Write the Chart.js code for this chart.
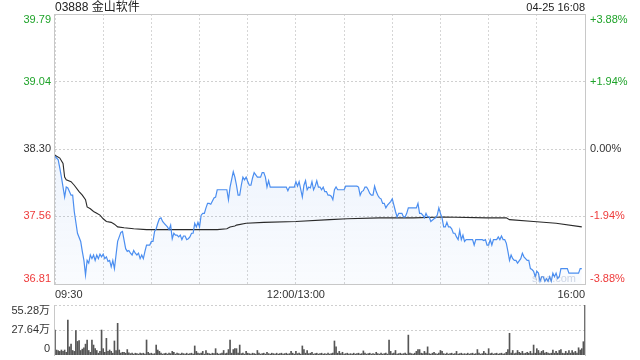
<!DOCTYPE html>
<html><head><meta charset="utf-8">
<script src="https://cdn.jsdelivr.net/npm/chart.js@4.4.1/dist/chart.umd.min.js"></script>
<style>
html,body{margin:0;padding:0;background:#fff;width:640px;height:360px;overflow:hidden;}
#wrap{position:relative;width:640px;height:360px;font-family:"Liberation Sans",Arial,"Noto Sans CJK SC",sans-serif;}
#title{position:absolute;left:55px;top:1px;font-size:12px;line-height:13px;color:#222;white-space:nowrap;}
#stamp{position:absolute;right:55px;top:1px;font-size:11px;line-height:13px;color:#222;white-space:nowrap;}
#mark{position:absolute;left:532px;top:272px;font-size:11px;line-height:12px;color:rgba(120,140,180,0.35);}
canvas{position:absolute;left:0;}
#c1{top:0;}
#c2{top:300px;}
</style></head>
<body><div id="wrap">
<canvas id="c1" width="640" height="300"></canvas>
<canvas id="c2" width="640" height="60"></canvas>
<div id="title">03888 金山软件</div>
<div id="stamp">04-25 16:08</div>
<div id="mark">sina.com</div>
</div>
<script>
// ---- data (minutes since 09:30, lunch break collapsed) ----
const prevClose = 38.30;
const priceTicks = [36.81, 37.56, 38.30, 39.04, 39.79];
const pctLabels = ['-3.88%', '-1.94%', '0.00%', '+1.94%', '+3.88%'];
const gridMinutes = [0, 30, 60, 90, 120, 150, 180, 210, 240, 270, 300, 330];
const timeTickMinutes = [0, 150, 330];
const timeTickLabels = ['09:30', '12:00/13:00', '16:00'];
const volTicks = [0, 27.64, 55.28];
const volTickLabels = ['0', '27.64万', '55.28万'];

const pricePoints = [
 [0,38.22],[2,38.18],[3,38.09],[4,37.99],[6,37.77],[7,37.88],[8,37.87],[10,37.79],[11,37.79],[12,37.61],
 [14,37.37],[16,37.28],[17,37.17],[18,37.07],[19,36.91],[20,37.07],[21,37.04],[22,37.13],[23,37.09],[24,37.13],
 [25,37.07],[26,37.13],[27,37.09],[28,37.14],[29,37.11],[30,37.14],[31,37.09],[32,37.11],[33,37.06],[34,37.07],
 [35,37.00],[36,37.07],[37,36.98],[38,37.13],[39,37.28],[40,37.33],[41,37.38],[42,37.39],[44,37.20],[45,37.17],
 [46,37.18],[47,37.15],[48,37.13],[49,37.18],[50,37.15],[51,37.13],[52,37.15],[53,37.09],[54,37.13],[55,37.09],
 [56,37.17],[57,37.24],[59,37.24],[60,37.28],[61,37.28],[62,37.39],[63,37.42],[64,37.48],[65,37.53],[66,37.54],
 [67,37.50],[68,37.48],[70,37.44],[71,37.41],[72,37.46],[73,37.31],[74,37.37],[75,37.35],[76,37.35],[77,37.33],
 [78,37.35],[79,37.30],[80,37.34],[81,37.34],[82,37.30],[83,37.31],[84,37.33],[85,37.37],[86,37.37],[87,37.48],
 [88,37.44],[89,37.49],[90,37.44],[91,37.57],[92,37.59],[93,37.59],[94,37.65],[95,37.70],[96,37.70],[97,37.69],
 [99,37.76],[100,37.77],[101,37.85],[106,37.85],[107,37.85],[108,37.74],[109,37.88],[111,38.05],[112,37.99],[113,37.90],
 [114,37.79],[115,37.79],[116,37.90],[117,37.99],[118,37.96],[119,37.99],[120,37.94],[121,37.90],[122,37.90],[123,37.98],
 [124,38.04],[126,37.99],[127,37.99],[128,37.99],[129,38.04],[130,38.04],[131,37.99],[132,37.88],[133,37.95],[134,37.88],
 [144,37.88],[145,37.84],[146,37.88],[149,37.88],[150,37.94],[151,37.89],[152,37.94],[154,37.77],[155,37.90],[156,37.95],
 [157,37.85],[158,37.88],[159,37.87],[160,37.94],[161,37.85],[162,37.89],[163,37.95],[164,37.88],[165,37.88],[166,37.85],
 [167,37.88],[168,37.83],[169,37.83],[170,37.79],[171,37.79],[172,37.78],[173,37.74],[174,37.85],[175,37.88],[176,37.85],
 [180,37.85],[181,37.89],[188,37.89],[189,37.88],[190,37.79],[191,37.83],[192,37.84],[193,37.88],[194,37.88],[195,37.85],
 [196,37.81],[197,37.79],[198,37.79],[199,37.89],[200,37.83],[201,37.79],[202,37.76],[203,37.75],[204,37.70],[205,37.70],
 [206,37.65],[207,37.68],[209,37.72],[210,37.75],[211,37.68],[212,37.61],[213,37.55],[214,37.59],[216,37.59],[217,37.55],
 [218,37.55],[219,37.59],[220,37.65],[225,37.65],[226,37.70],[227,37.59],[228,37.59],[229,37.57],[230,37.54],[231,37.59],
 [232,37.55],[233,37.55],[234,37.50],[236,37.53],[237,37.54],[238,37.57],[239,37.65],[240,37.59],[241,37.54],[242,37.44],
 [243,37.44],[244,37.49],[245,37.44],[246,37.44],[247,37.42],[248,37.37],[249,37.37],[250,37.33],[251,37.30],[252,37.40],
 [253,37.30],[254,37.35],[255,37.28],[256,37.30],[260,37.30],[261,37.24],[262,37.30],[264,37.30],[266,37.30],[267,37.29],
 [268,37.30],[269,37.24],[270,37.24],[271,37.30],[272,37.24],[273,37.30],[275,37.30],[276,37.33],[277,37.30],[278,37.34],
 [279,37.30],[280,37.30],[281,37.26],[282,37.17],[283,37.07],[284,37.13],[285,37.09],[286,37.07],[287,37.07],[288,37.04],
 [290,37.09],[291,37.15],[292,37.11],[293,37.09],[294,37.07],[295,37.07],[296,36.98],[297,36.97],[298,36.95],[299,36.89],
 [300,36.95],[301,36.93],[302,36.84],[303,36.89],[304,36.89],[305,36.84],[306,36.87],[307,36.84],[308,36.89],[309,36.84],
 [310,36.93],[311,36.89],[312,36.93],[313,36.87],[314,36.89],[315,36.98],[319,36.98],[320,36.93],[326,36.93],[327,36.98],
 [328,36.98]
];

const avgPoints = [
 [0,38.23],[3,38.20],[5,38.14],[6,37.99],[7,37.96],[10,37.94],[12,37.90],[15,37.83],[17,37.79],[19,37.74],
 [20,37.66],[22,37.64],[24,37.61],[26,37.59],[28,37.57],[30,37.53],[32,37.50],[35,37.49],[37,37.47],[39,37.44],
 [43,37.43],[49,37.42],[57,37.41],[70,37.41],[90,37.41],[101,37.41],[107,37.42],[109,37.44],[112,37.45],[113,37.46],
 [119,37.48],[130,37.49],[150,37.50],[171,37.52],[182,37.53],[202,37.54],[223,37.54],[242,37.55],[269,37.54],[281,37.54],
 [283,37.52],[298,37.50],[312,37.48],[328,37.44]
];

// volume per minute (万股), index = minute
const volumes = [
 27.6,5.5,4.8,4,5.5,4,5.5,3,38.7,9,
 12,5,4,27,15,16,5,6.5,8,12,
 16.6,5,3,16.6,11,7,5,2,4,27.6,
 7,3,18.4,4,5.5,4,2,15.5,5,35,
 5.5,2,3,3,2,6,2.5,1.5,2,1,
 2,1.5,1,2,1.5,2,1,16.6,3,1.5,
 2,1,1.5,11,5.5,4,2,1,1.5,2,
 1,2,1.5,4,3,1,2,1.5,1,2,
 1.5,1,2,1,1.5,2,1,10,4,2,
 1.5,2,4,1,5,2,1.5,1,2,1.5,
 7,2,1,1.5,2,5,1.5,2,6,16.6,
 2,6,7,7,2,11,1.5,2,1,4,
 2,1.5,1,2,1.5,1,5,2,1,1.5,
 2,1,3,1.5,1,2,1.5,1,2,1,
 1.5,2,1,1.5,2,1,1.5,4,2,1,
 4,1.5,2,1,10,6,2,5,1.5,2,
 3,1,1.5,2,1,1.5,2,1,1.5,1,
 2,1,1.5,2,15.5,9,2,4,1.5,3,
 1,1.5,2,1,1.5,1,2,1,1.5,2,
 1,1.5,4.5,2,1,1.5,2,1,1.5,1,
 3,1.5,1,2,1,1.5,2,1,16.6,4,
 1.5,2,5,1,1.5,2,1,1.5,2,1,
 22,2,1.5,1,2,4,6,6,2,1.5,
 4,2,9,1.5,1,2,3,1.5,1,2,
 5,4,1.5,1,2,1,1.5,2,1,1.5,
 4,1,1.5,2,1,1.5,1,2,1,1.5,
 2,1,1.5,6,2,1,1.5,4,2,1,
 7,1.5,2,1,1.5,2,1,1.5,2,1,
 1.5,3,6,24,2,5,1.5,2,5,3,
 2,4,1.5,2,3,2,4,1.5,11,2,
 7,5,2,4,5,2,3,2,1.5,2,
 5.5,2,4,2,5,6,2,1.5,4,2,
 5,2,5,2.5,4,2,8,5.5,7,14.7,
 55.28
];

// ---- styling ----
const GREEN = '#1fa32a', RED = '#ee3b3b', DARK = '#333333';
const FONT = "11px 'Liberation Sans', Arial, 'Noto Sans CJK SC', sans-serif";
function priceColor(v){ return Math.abs(v - prevClose) < 1e-6 ? DARK : (v > prevClose ? GREEN : RED); }

const framePlugin = {
  id: 'frame',
  afterDraw(chart, args, o) {
    const {ctx, chartArea: a} = chart;
    ctx.save();
    ctx.strokeStyle = o.color; ctx.lineWidth = 1;
    ctx.beginPath();
    if (o.top) { ctx.moveTo(a.left - 0.5, a.top + 0.5); ctx.lineTo(a.right + 0.5, a.top + 0.5); }
    if (o.bottom) { ctx.moveTo(a.left - 0.5, a.bottom + 0.5); ctx.lineTo(a.right + 0.5, a.bottom + 0.5); }
    ctx.moveTo(a.left - 0.5, a.top); ctx.lineTo(a.left - 0.5, a.bottom + 1);
    ctx.moveTo(a.right + 0.5, a.top); ctx.lineTo(a.right + 0.5, a.bottom + 1);
    ctx.stroke();
    ctx.restore();
  }
};

const priceLabelPlugin = {
  id: 'priceLabels',
  afterDraw(chart) {
    const {ctx, chartArea: a, scales} = chart;
    const y = scales.y, x = scales.x;
    ctx.save();
    ctx.font = FONT;
    priceTicks.forEach((v, i) => {
      const py = y.getPixelForValue(v);
      let ty = py, base = 'middle';
      if (i === 0) { ty = a.bottom - 2; base = 'alphabetic'; }
      else if (i === priceTicks.length - 1) { ty = a.top; base = 'top'; }
      ctx.textBaseline = base;
      ctx.fillStyle = priceColor(v);
      ctx.textAlign = 'right';
      ctx.fillText(v.toFixed(2), a.left - 4, ty);
      ctx.textAlign = 'left';
      ctx.fillText(pctLabels[i], a.right + 5, ty);
    });
    ctx.fillStyle = DARK;
    ctx.textBaseline = 'alphabetic';
    timeTickMinutes.forEach((m, i) => {
      const px = x.getPixelForValue(m);
      ctx.textAlign = i === 0 ? 'left' : (i === timeTickMinutes.length - 1 ? 'right' : 'center');
      ctx.fillText(timeTickLabels[i], px, a.bottom + 14);
    });
    ctx.restore();
  }
};

const volLabelPlugin = {
  id: 'volLabels',
  afterDraw(chart) {
    const {ctx, chartArea: a, scales} = chart;
    ctx.save();
    ctx.font = FONT;
    ctx.fillStyle = DARK;
    ctx.textAlign = 'right';
    volTicks.forEach((v, i) => {
      let ty = scales.y.getPixelForValue(v), base = 'middle';
      if (i === 0) { ty = a.bottom - 3; base = 'alphabetic'; }
      else if (i === volTicks.length - 1) { ty = a.top; base = 'top'; }
      ctx.textBaseline = base;
      ctx.fillText(volTickLabels[i], a.left - 5, ty);
    });
    ctx.restore();
  }
};

function fillGradient(context) {
  const chart = context.chart, a = chart.chartArea;
  if (!a) return 'rgba(80,140,230,0.08)';
  const g = chart.ctx.createLinearGradient(0, a.top, 0, a.bottom);
  g.addColorStop(0, 'rgba(80,140,230,0.16)');
  g.addColorStop(1, 'rgba(80,140,230,0.03)');
  return g;
}

new Chart(document.getElementById('c1'), {
  type: 'line',
  data: {
    datasets: [
      { data: pricePoints.map(p => ({x: p[0], y: p[1]})), borderColor: '#4b8ef0', borderWidth: 1.2,
        pointRadius: 0, tension: 0, fill: 'start', backgroundColor: fillGradient },
      { data: avgPoints.map(p => ({x: p[0], y: p[1]})), borderColor: '#2a2a2a', borderWidth: 1.1,
        pointRadius: 0, tension: 0, fill: false }
    ]
  },
  options: {
    responsive: false, animation: false, devicePixelRatio: 1,
    layout: { padding: { left: 55, right: 55, top: 14, bottom: 16 } },
    plugins: { legend: {display: false}, tooltip: {enabled: false}, filler: {drawTime: 'beforeDatasetsDraw'},
               frame: { color: '#c8c8c8', top: true, bottom: true } },
    scales: {
      x: { type: 'linear', min: 0, max: 330,
           afterBuildTicks: s => { s.ticks = gridMinutes.map(v => ({value: v})); },
           afterFit: s => { s.height = 0; },
           ticks: {display: false}, grid: {color: '#d6d6d6', drawTicks: false},
           border: {display: false, dash: [2, 2]} },
      y: { type: 'linear', min: priceTicks[0], max: priceTicks[priceTicks.length - 1],
           afterBuildTicks: s => { s.ticks = priceTicks.map(v => ({value: v})); },
           afterFit: s => { s.width = 0; },
           ticks: {display: false}, grid: {color: '#d0d0d0', drawTicks: false},
           border: {display: false, dash: [2, 2]} }
    }
  },
  plugins: [framePlugin, priceLabelPlugin]
});

new Chart(document.getElementById('c2'), {
  type: 'bar',
  data: {
    datasets: [
      { data: volumes.map((v, m) => ({x: m, y: v})), backgroundColor: '#555555',
        barThickness: 1, borderWidth: 0 }
    ]
  },
  options: {
    responsive: false, animation: false, devicePixelRatio: 1,
    layout: { padding: { left: 55, right: 55, top: 5, bottom: 5 } },
    plugins: { legend: {display: false}, tooltip: {enabled: false},
               frame: { color: '#c8c8c8', top: false, bottom: false } },
    scales: {
      x: { type: 'linear', min: 0, max: 330, offset: false,
           afterFit: s => { s.height = 0; },
           ticks: {display: false}, grid: {display: false}, border: {display: false} },
      y: { type: 'linear', min: 0, max: volTicks[volTicks.length - 1],
           afterBuildTicks: s => { s.ticks = volTicks.slice(1).map(v => ({value: v})); },
           afterFit: s => { s.width = 0; },
           ticks: {display: false}, grid: {color: '#cfcfcf', drawTicks: false},
           border: {display: false, dash: [2, 2]} }
    }
  },
  plugins: [framePlugin, volLabelPlugin]
});
</script>
</body></html>
